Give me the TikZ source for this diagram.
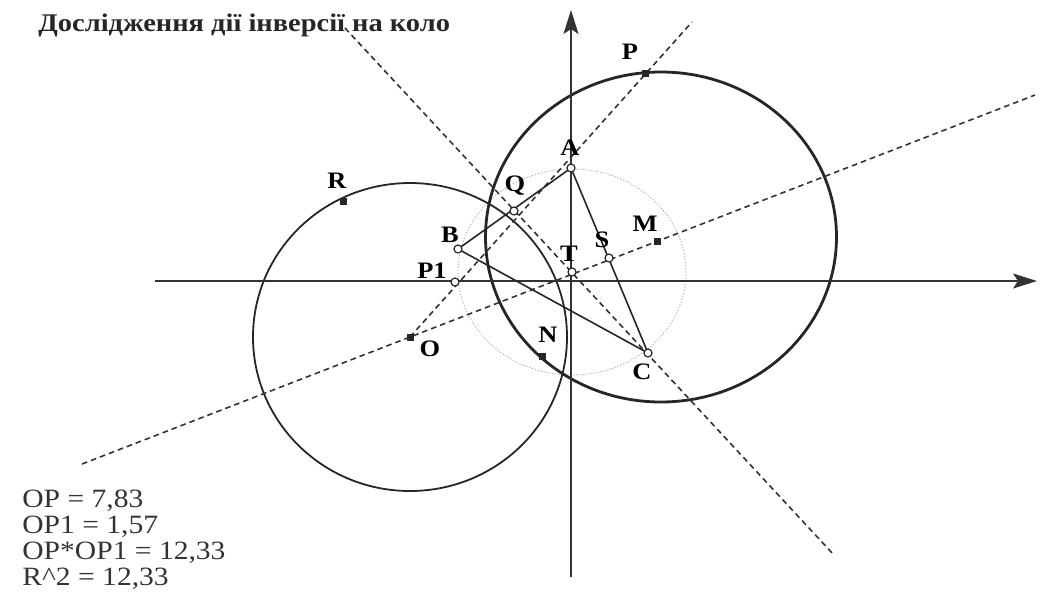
\documentclass[tikz,border=0pt]{standalone}
\usepackage{fontspec}
\setmainfont{Liberation Serif}[FakeStretch=1.12]
\usetikzlibrary{arrows.meta,backgrounds}
\begin{document}
\begin{tikzpicture}[x=0.5pt,y=-0.5pt,
  axis/.style={line width=0.8pt,draw=black!80,
    -{Stealth[length=12pt,width=7.5pt,inset=2.5pt]}},
  dashline/.style={line width=0.8pt,draw=black!80,dash pattern=on 2.8pt off 2pt},
  side/.style={line width=0.8pt,draw=black!85},
  openpt/.style={circle,draw=black!85,fill=white,line width=0.6pt,
    inner sep=0pt,minimum size=4pt},
  fixpt/.style={rectangle,fill=black!85,inner sep=0pt,minimum size=3.5pt},
  lbl/.style={font=\fontsize{11.8}{13}\selectfont\bfseries,inner sep=0pt}]
  \useasboundingbox (0,0) rectangle (1040,607);
  % fixed and constructed points
  \node[fixpt] (O) at (410,337) {};
  \node[fixpt] (P) at (645,73) {};
  \node[fixpt] (R) at (343,201) {};
  \node[fixpt] (N) at (542,356) {};
  \node[fixpt] (M) at (657,241) {};
  \node[openpt] (A) at (571,168) {};
  \node[openpt] (B) at (458,249) {};
  \node[openpt] (C) at (648,353) {};
  \node[openpt] (Q) at (514,211) {};
  \node[openpt] (T) at (572,272) {};
  \node[openpt] (S) at (609,258) {};
  \node[openpt] (P1) at (455,282) {};
  % labels
  \node[lbl] (lR) at (337,181) {R};
  \node[lbl] (lQ) at (515,186) {Q};
  \node[lbl] (lB) at (450,235) {B};
  \node[lbl] (lP1) at (432,271) {P1};
  \node[lbl] (lT) at (569,254) {T};
  \node[lbl] (lA) at (570,148) {A};
  \node[lbl] (lS) at (602,240) {S};
  \node[lbl] (lM) at (645,224) {M};
  \node[lbl] (lC) at (642,372) {C};
  \node[lbl] (lN) at (548,335) {N};
  \node[lbl] (lO) at (430,349) {O};
  \node[lbl] (lP) at (630,52) {P};
  % ends of axes and lines
  \coordinate (X0) at (155,281);
  \coordinate (X1) at (1037,281);
  \coordinate (Y0) at (571,577);
  \coordinate (Y1) at (571,10);
  \coordinate (Mc) at (661,237);
  \coordinate (Pend) at (692,22);
  \coordinate (Lw) at (82,464);
  \coordinate (Le) at (1035,95);
  \coordinate (Tn) at (345,28);
  \coordinate (Ts) at (834,555);
  \begin{scope}[on background layer]
    \draw[gray!70,line width=0.4pt,dash pattern=on 0.6pt off 0.9pt]
      (T.center) ellipse [x radius=57pt,y radius=51.5pt];
    \draw[line width=0.9pt,black!85] (O.center) ellipse [x radius=78.5pt,y radius=77pt];
    \draw[line width=1.4pt,black!85] (Mc) ellipse [x radius=87.75pt,y radius=82.5pt];
    \draw[axis] (X0) -- (X1);
    \draw[axis] (Y0) -- (Y1);
    \draw[dashline] (O.center) -- (Pend);
    \draw[dashline] (Lw) -- (Le);
    \draw[dashline] (Tn) -- (Ts);
    \draw[side] (A.center) -- (B.center) -- (C.center) -- cycle;
  \end{scope}
  \node[anchor=base west,inner sep=0pt,text=black!85,
    font=\fontsize{12.7}{15}\selectfont\bfseries] (title) at (38,31)
    {Дослідження дії інверсії на коло};
  \foreach \txt [count=\i] in {{OP = 7,83},{OP1 = 1,57},{OP*OP1 = 12,33},
      {R\textasciicircum2 = 12,33}}
    \node[anchor=base west,inner sep=0pt,text=black!80,
      font=\fontsize{13.2}{15}\selectfont] (res\i) at (22,481+26*\i) {\txt};
\end{tikzpicture}
\end{document}
